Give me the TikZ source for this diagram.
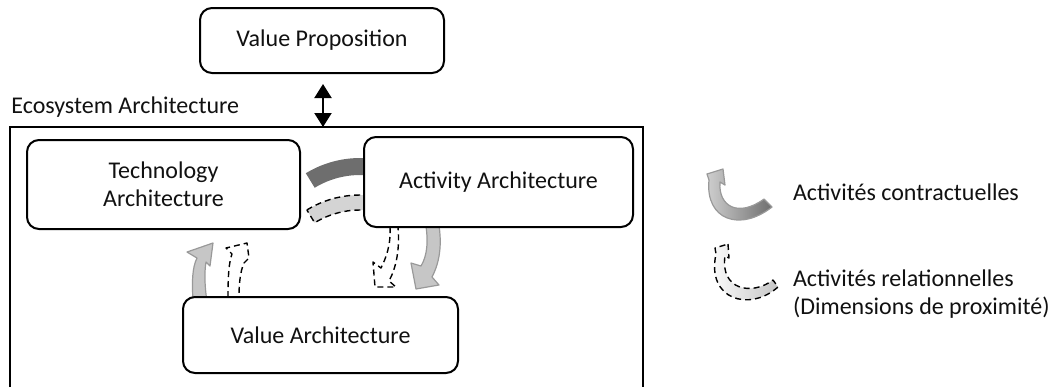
\documentclass[tikz,border=0pt]{standalone}
\usepackage{fontspec}
\setmainfont{Carlito}
\usetikzlibrary{arrows.meta, positioning, backgrounds}
\definecolor{BandDark}{HTML}{6E6E6E}
\definecolor{BandLight}{HTML}{C6C6C6}
\definecolor{BandEdge}{HTML}{999999}
\definecolor{BandPale}{HTML}{D4D4D4}
\definecolor{TextDark}{HTML}{111111}

\begin{document}
\begin{tikzpicture}[
    x=0.5pt, y=-0.5pt,
    every node/.style={font=\fontsize{12}{14}\selectfont, text=TextDark},
    arch/.style={rectangle, draw=black, fill=white, line width=1pt, rounded corners=6pt, align=center},
    frm/.style={line width=0.8pt},
    dbl/.style={{Triangle[width=8.5pt,length=7pt]}-{Triangle[width=8.5pt,length=7pt]}, line width=1pt},
    contr/.style={fill=BandLight, draw=BandEdge, line width=0.6pt, line join=round},
    rel/.style={draw=black, line width=0.7pt, dash pattern=on 3pt off 2pt, line join=round}
  ]
    \useasboundingbox (0,0) rectangle (1051,387);

    % boxes
    \node[arch, minimum width=122pt, minimum height=32.5pt] (vp) at (322,40.5) {Value Proposition};
    \node[arch, minimum width=136.5pt, minimum height=44.5pt] (tech) at (163.5,184.5) {Technology\\Architecture};
    \node[arch, minimum width=134.5pt, minimum height=45pt] (act) at (498.5,182) {Activity Architecture};
    \node[arch, minimum width=137.5pt, minimum height=38pt] (val) at (320.5,335) {Value Architecture};

    % ecosystem frame
    \node[anchor=base west, inner sep=0pt] (eco) at (11,113) {Ecosystem Architecture};
    \coordinate (ecoSW) at (10,387);
    \coordinate (ecoNW) at (10,127);
    \coordinate (ecoNE) at (643,127);
    \coordinate (ecoSE) at (643,387);
    \coordinate (ecoTop) at (323,127);
    \draw[frm] (ecoSW) -- (ecoNW) -- (ecoNE) -- (ecoSE);
    \draw[dbl, shorten <=5pt] (vp.south -| ecoTop) -- (ecoTop);

    \begin{scope}[on background layer]
      % activity -> technology
      \fill[BandDark] ([shift={(360,262)}]238.6:104) arc[start angle=238.6, end angle=285, radius=104]
        -- ([shift={(360,262)}]285:87) arc[start angle=285, end angle=238.6, radius=87] -- cycle;
      \path[rel, fill=BandPale] ([shift={(360,297)}]238.6:102) arc[start angle=238.6, end angle=285, radius=102]
        -- ([shift={(360,297)}]285:87) arc[start angle=285, end angle=238.6, radius=87] -- cycle;
      % activity -> value
      \path[contr] (425,220) .. controls (429,242) and (427,256) .. (421,266) -- (411,263) -- (416,289)
        -- (439,285) -- (432,277) .. controls (441,260) and (442,240) .. (438,220) -- cycle;
      \path[rel] (390,227) .. controls (391,245) and (386,258) .. (381,268) -- (373,262) -- (375,287)
        -- (396,287) -- (389,281) .. controls (396,268) and (400,250) .. (398,227);
      % value -> technology
      \path[contr] (193,302) .. controls (192,282) and (192,268) .. (197,258) -- (187,252) -- (213,243)
        -- (210,266) -- (206,262) .. controls (204,274) and (205,288) .. (207,302) -- cycle;
      \path[rel] (228,297) .. controls (228,275) and (229,262) .. (232,254) -- (226,248) -- (247,243)
        -- (249,258) -- (244,263) .. controls (240,272) and (239,285) .. (239,297);
    \end{scope}

    % legend
    \shade[draw=BandEdge, line width=0.6pt, line join=round, left color=BandLight!80, right color=BandDark]
      (723,169) -- (725,185) -- (720,182) .. controls (718,206) and (738,218) .. (764,199)
      -- (772,207) .. controls (740,232) and (705,220) .. (709,180) -- (707,174) -- cycle;
    \node[anchor=west] (lgC) at (786,192) {Activités contractuelles};
    \shade[rel, left color=white, right color=BandLight]
      (728,244) -- (729,258) -- (725,256) .. controls (720,290) and (752,296) .. (773,280)
      -- (778,287) .. controls (750,312) and (706,300) .. (716,254) -- (715,248) -- cycle;
    \node[anchor=west, align=left] (lgR) at (786,294) {Activités relationnelles\\(Dimensions de proximité)};
\end{tikzpicture}
\end{document}
